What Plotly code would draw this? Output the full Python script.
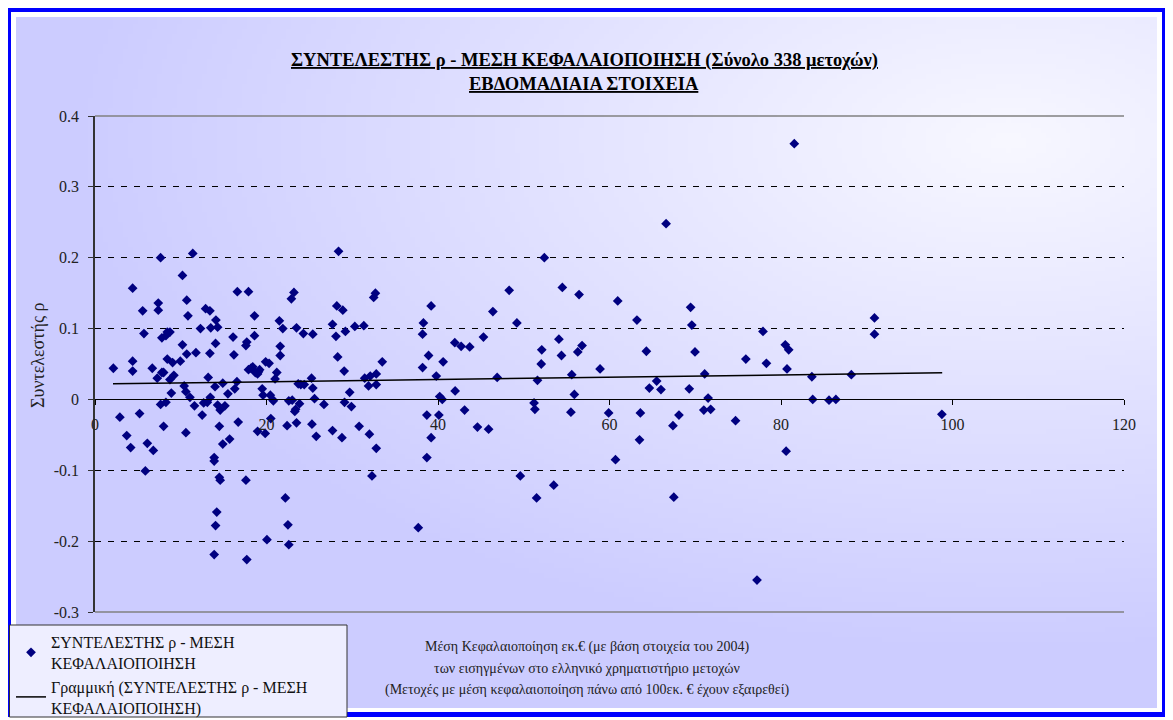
import base64, struct, zlib
import numpy as np
import plotly.graph_objects as go

# ---------------- data ----------------
cap_values = [
    2.14, 2.90, 3.70, 4.16, 4.39, 4.39, 4.39, 5.20, 5.56, 5.71, 6.10, 6.80, 6.68, 7.26, 7.38, 7.38, 7.65, 7.65, 7.80, 7.80,
    8.00, 8.00, 8.27, 8.27, 8.43, 8.43, 8.74, 8.74, 8.90, 9.05, 9.20, 9.95, 10.20, 10.20, 10.40, 10.60, 10.60, 10.70, 10.70, 10.84,
    11.07, 11.40, 11.60, 11.77, 12.30, 12.50, 12.67, 12.90, 13.10, 13.20, 13.40, 13.40, 13.45, 13.50, 13.90, 14.00, 14.06, 14.10, 14.30, 14.30,
    14.50, 14.60, 14.90, 14.90, 15.15, 15.50, 15.70, 16.10, 16.20, 16.30, 16.55, 16.60, 16.70, 17.60, 17.70, 17.90, 17.90, 18.20, 18.40, 18.60,
    18.60, 18.70, 18.96, 19.07, 18.96, 19.20, 19.50, 19.60, 19.85, 19.90, 20.30, 20.45, 20.50, 20.70, 20.80, 21.00, 21.20, 21.50, 21.60, 21.60,
    21.90, 22.40, 22.60, 22.90, 23.00, 23.20, 23.30, 23.40, 23.50, 23.50, 23.70, 23.85, 24.00, 24.30, 24.40, 25.25, 25.40, 25.40, 25.30, 25.60,
    25.80, 26.70, 27.70, 27.70, 28.10, 28.20, 28.30, 28.40, 28.80, 28.90, 29.06, 29.10, 29.20, 29.70, 29.90, 30.30, 30.80,
    5.87, 13.90, 14.50, 14.60, 14.20, 14.06, 13.90, 17.60, 17.70, 20.05, 22.20, 22.50, 22.60,
    31.35, 31.45, 31.90, 32.00, 32.10, 32.50, 32.70, 32.80, 32.80, 32.80, 33.50, 38.20, 38.20, 38.30, 38.70, 38.70, 38.90, 39.20, 39.20, 39.80,
    40.10, 40.20, 40.50, 40.60, 41.96, 42.00, 42.70, 43.10, 43.70, 44.60, 45.30, 45.90, 46.40, 46.90, 48.30, 49.20, 51.20, 51.30, 51.60, 52.04,
    52.10, 52.40, 54.10, 54.40, 54.50, 55.50, 55.60, 55.90, 56.30, 56.45,
    32.30, 37.70, 49.60, 51.50, 53.50,
    56.80, 58.90, 59.90, 60.96, 60.70, 63.20, 63.60, 63.50, 64.30, 64.65, 65.50, 66.00, 66.60, 67.40, 68.10, 69.30, 69.46, 69.60, 69.97, 71.00,
    71.10, 71.50, 71.80, 74.70, 75.90, 77.90, 78.30, 80.50, 80.90, 80.70, 80.60, 81.55, 83.60, 83.70, 85.60, 86.40,
    67.50, 77.20,
    88.20, 90.90, 90.90, 98.76,
]
rho_values = [
    0.044, -0.025, -0.051, -0.068, 0.157, 0.040, 0.054, -0.020, 0.125, 0.093, -0.062, -0.072, 0.044, 0.030, 0.136, 0.126, 0.200, -0.007, 0.087, 0.038,
    0.038, -0.038, 0.090, -0.004, 0.057, 0.095, 0.095, 0.028, 0.009, 0.052, 0.034, 0.054, 0.175, 0.077, 0.019, 0.011, -0.047, 0.140, 0.064, 0.118,
    0.003, 0.206, -0.009, 0.066, 0.100, -0.022, -0.005, 0.128, -0.004, 0.031, 0.125, 0.065, 0.003, 0.101, -0.082, 0.018, 0.079, 0.112, 0.102, -0.008,
    -0.038, -0.015, 0.023, -0.063, -0.009, 0.008, -0.056, 0.088, 0.063, 0.015, 0.025, 0.152, -0.032, 0.076, 0.081, 0.152, 0.042, 0.044, 0.046, 0.118,
    0.090, 0.038, 0.036, 0.039, -0.045, 0.042, 0.015, 0.006, -0.048, 0.053, 0.051, 0.006, -0.027, 0.000, -0.002, 0.029, 0.038, 0.111, 0.075, 0.062,
    0.100, -0.037, -0.002, 0.142, -0.001, 0.151, -0.017, -0.014, 0.101, -0.033, 0.022, -0.006, 0.021, 0.093, 0.021, 0.030, 0.016, 0.092, -0.035, 0.001,
    -0.052, -0.007, 0.106, -0.044, 0.089, 0.132, 0.060, 0.209, -0.054, 0.126, 0.040, -0.004, 0.096, 0.010, -0.010, 0.103, -0.038,
    -0.101, -0.087, -0.110, -0.114, -0.159, -0.178, -0.219, -0.114, -0.226, -0.198, -0.139, -0.177, -0.205,
    0.104, 0.030, 0.019, -0.049, 0.033, 0.144, 0.150, 0.036, 0.021, -0.069, 0.053, 0.092, 0.045, 0.108, -0.022, -0.082, 0.062, 0.132, -0.054, 0.033,
    -0.022, 0.004, 0.000, 0.053, 0.080, 0.012, 0.075, -0.015, 0.074, -0.039, 0.088, -0.042, 0.124, 0.031, 0.154, 0.108, -0.005, -0.014, 0.027, 0.050,
    0.070, 0.200, 0.085, 0.062, 0.158, -0.018, 0.035, 0.007, 0.067, 0.148,
    -0.108, -0.181, -0.108, -0.139, -0.121,
    0.076, 0.043, -0.019, 0.139, -0.085, 0.112, -0.019, -0.057, 0.068, 0.016, 0.026, 0.014, 0.248, -0.037, -0.022, 0.015, 0.130, 0.105, 0.067, -0.015,
    0.036, 0.002, -0.014, -0.030, 0.057, 0.096, 0.051, 0.077, 0.070, 0.043, -0.073, 0.361, 0.032, 0.000, -0.001, 0.000,
    -0.138, -0.255,
    0.035, 0.115, 0.092, -0.021,
]

# linear trend line (as drawn in the reference)
trend_x = [2.1, 98.8]
trend_y = [0.0220, 0.0376]

x_ticks = [0, 20, 40, 60, 80, 100, 120]
y_ticks = [-0.3, -0.2, -0.1, 0, 0.1, 0.2, 0.3, 0.4]
y_tick_labels = ["-0.3", "-0.2", "-0.1", "0", "0.1", "0.2", "0.3", "0.4"]

title_lines = ["ΣΥΝΤΕΛΕΣΤΗΣ ρ - ΜΕΣΗ ΚΕΦΑΛΑΙΟΠΟΙΗΣΗ (Σύνολο 338 μετοχών)", "ΕΒΔΟΜΑΔΙΑΙΑ ΣΤΟΙΧΕΙΑ"]
x_title_lines = [
    "Μέση Κεφαλαιοποίηση εκ.€ (με βάση στοιχεία του 2004)",
    "των εισηγμένων στο ελληνικό χρηματιστήριο μετοχών",
    "(Μετοχές με μέση κεφαλαιοποίηση πάνω από 100εκ. € έχουν εξαιρεθεί)",
]
y_title = "Συντελεστής ρ"
series_name = "ΣΥΝΤΕΛΕΣΤΗΣ ρ - ΜΕΣΗ<br>ΚΕΦΑΛΑΙΟΠΟΙΗΣΗ"
trend_name = "Γραμμική (ΣΥΝΤΕΛΕΣΤΗΣ ρ - ΜΕΣΗ<br>ΚΕΦΑΛΑΙΟΠΟΙΗΣΗ)"

# ---------------- layout geometry (page pixel coordinates) ----------------
PAGE_W, PAGE_H = 1173, 720
OFF = 8                           # default body margin of the html page
L, R, T, B = 95, 1124, 116, 612   # plot area on the page
PW, PH = R - L, B - T


def px(X):
    return (X - L) / PW


def py(Y):
    return (B - Y) / PH


# ---------------- gradient background image ----------------
def gradient_uri(w, h, X0, Y0, X1, Y1):
    xs = np.linspace(X0, X1, w)
    ys = np.linspace(Y0, Y1, h)
    XX, YY = np.meshgrid(xs, ys)
    d = np.sqrt(((XX - 1010) / 950.0) ** 2 + ((YY - 140) / 520.0) ** 2)
    t = np.clip(1 - d, 0, 1)
    c = 204 + (248 - 204) * t
    r = np.clip(c, 0, 255).astype(np.uint8)
    img = np.stack([r, r, np.full_like(r, 255)], axis=-1)
    raw = b"".join(b"\x00" + img[i].tobytes() for i in range(h))

    def chunk(tag, data):
        return struct.pack(">I", len(data)) + tag + data + struct.pack(">I", zlib.crc32(tag + data) & 0xFFFFFFFF)

    png = (b"\x89PNG\r\n\x1a\n" + chunk(b"IHDR", struct.pack(">IIBBBBB", w, h, 8, 2, 0, 0, 0))
           + chunk(b"IDAT", zlib.compress(raw, 9)) + chunk(b"IEND", b""))
    return "data:image/png;base64," + base64.b64encode(png).decode()


BX0, BY0, BX1, BY1 = 16, 17, 1157, 708
bg_uri = gradient_uri(230, 140, BX0, BY0, BX1, BY1)

SERIF = "Liberation Serif, Times New Roman, serif"

fig = go.Figure()
fig.add_trace(go.Scatter(
    x=cap_values, y=rho_values, mode="markers", name=series_name,
    marker=dict(symbol="diamond", size=7.5, color="#000080"),
))
fig.add_trace(go.Scatter(
    x=trend_x, y=trend_y, mode="lines", name=trend_name,
    line=dict(color="black", width=1.5),
))

fig.update_layout(
    width=PAGE_W - OFF, height=PAGE_H - OFF,
    margin=dict(l=L - OFF, r=PAGE_W - R, t=T - OFF, b=PAGE_H - B, autoexpand=False),
    paper_bgcolor="white",
    plot_bgcolor="rgba(0,0,0,0)",
    font=dict(family=SERIF, size=14, color="black"),
    showlegend=True,
    legend=dict(
        x=px(11), y=py(625), xanchor="left", yanchor="top",
        bgcolor="rgba(0,0,0,0)", borderwidth=0,
        font=dict(family=SERIF, size=16, color="#111111"),
        tracegroupgap=0, itemwidth=30,
    ),
    images=[dict(
        source=bg_uri, xref="paper", yref="paper",
        x=px(BX0), y=py(BY0), sizex=(BX1 - BX0) / PW, sizey=(BY1 - BY0) / PH,
        xanchor="left", yanchor="top", sizing="stretch", layer="below",
    )],
)

fig.update_xaxes(
    range=[0, 120], tickvals=x_ticks, anchor="free", position=0.3 / 0.7,
    showline=True, linecolor="black", linewidth=1,
    ticks="outside", ticklen=5, tickcolor="black", ticklabelstandoff=5,
    showgrid=False, zeroline=False,
    tickfont=dict(family=SERIF, size=16, color="#222222"),
)
fig.update_yaxes(
    range=[-0.3, 0.4], tickvals=y_ticks, ticktext=y_tick_labels,
    showline=True, linecolor="#333333", linewidth=1.5,
    ticks="outside", ticklen=5, tickcolor="#333333", ticklabelstandoff=6,
    showgrid=True, gridcolor="black", gridwidth=1, griddash="6px,7px",
    zeroline=False,
    tickfont=dict(family=SERIF, size=16, color="#222222"),
)

shapes = [
    # outer blue frame
    dict(type="rect", xref="paper", yref="paper",
         x0=px(8.5), x1=px(1164.5), y0=py(714.5), y1=py(9.5),
         line=dict(color="#0000FF", width=5), layer="below"),
    # plot area top / bottom border lines
    dict(type="line", xref="paper", yref="paper", x0=0, x1=1, y0=1, y1=1,
         line=dict(color="#808080", width=1.5), layer="above"),
    dict(type="line", xref="paper", yref="paper", x0=0, x1=1, y0=0, y1=0,
         line=dict(color="#808080", width=1.5), layer="above"),
    # legend box
    dict(type="rect", xref="paper", yref="paper",
         x0=px(9.5), x1=px(347), y0=py(717), y1=py(625),
         fillcolor="#EEEEFF", line=dict(color="#333333", width=1), layer="above"),
]
fig.update_layout(shapes=shapes)

ann = []
for line, Y in zip(title_lines, [60, 84]):
    ann.append(dict(text="<b><u>%s</u></b>" % line, xref="paper", yref="paper",
                    x=px(584), y=py(Y), xanchor="center", yanchor="middle", showarrow=False,
                    font=dict(family=SERIF, size=18.5, color="black")))
for line, Y in zip(x_title_lines, [647, 668, 690]):
    ann.append(dict(text=line, xref="paper", yref="paper",
                    x=px(587), y=py(Y), xanchor="center", yanchor="middle", showarrow=False,
                    font=dict(family=SERIF, size=14, color="#222222")))
ann.append(dict(text=y_title, xref="paper", yref="paper", textangle=-90,
                x=px(38), y=py(355), xanchor="center", yanchor="middle", showarrow=False,
                font=dict(family=SERIF, size=18, color="#222222")))
fig.update_layout(annotations=ann)

fig.write_html("out.html")
